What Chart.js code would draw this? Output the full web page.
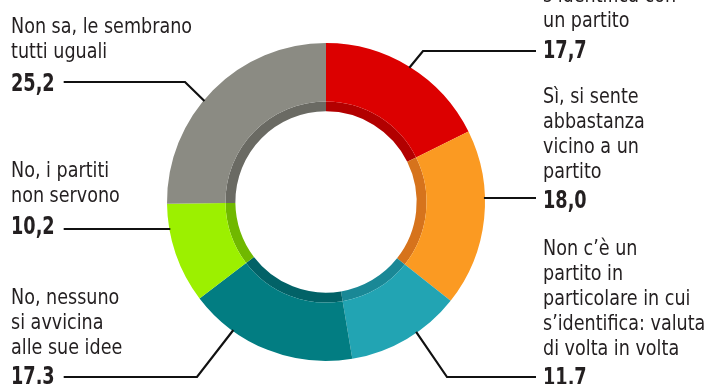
<!DOCTYPE html>
<html>
<head>
<meta charset="utf-8">
<script src="https://cdn.jsdelivr.net/npm/chart.js@4"></script>
<style>
  body { margin: 0; background: #fff; }
  canvas { display: block; }
</style>
</head>
<body>
<canvas id="donut" width="710" height="384"></canvas>
<script>
// categorie (righe di testo come nel grafico originale)
var categories = [
  ["Sì, si", "s’identifica con", "un partito"],
  ["Sì, si sente", "abbastanza", "vicino a un", "partito"],
  ["Non c’è un", "partito in", "particolare in cui", "s’identifica: valuta", "di volta in volta"],
  ["No, nessuno", "si avvicina", "alle sue idee"],
  ["No, i partiti", "non servono"],
  ["Non sa, le sembrano", "tutti uguali"],
];
var values = [17.7, 18.0, 11.7, 17.3, 10.2, 25.2];
var colors = ["#dc0000", "#fb9a22", "#22a4b3", "#027d82", "#9cf000", "#8b8b83"];
var shadeColors = ["#b20000", "#d6731c", "#1a8896", "#026267", "#70b800", "#6a6a63"];

// posizioni delle etichette (prima riga, numero, linea di richiamo)
var labelLayout = [
  { side: "right", x: 543, y: -23, numY: 58, lineY: 51, elbowX: 423, t: 0.5 },
  { side: "right", x: 543, y: 103, numY: 208, lineY: 198, elbowX: null },
  { side: "right", x: 543, y: 255, numY: 385, lineY: 377, elbowX: 447, t: 0.4 },
  { side: "left", x: 11, y: 304, numY: 384, lineY: 377, elbowX: 197, t: 0.73 },
  { side: "left", x: 11, y: 177, numY: 234, lineY: 229, elbowX: null },
  { side: "left", x: 11, y: 33, numY: 91, lineY: 82, elbowX: 185, t: 0.445 },
];

var textFont = '21px "Liberation Sans Narrow", "DejaVu Sans Condensed", sans-serif';
var numFont = 'bold 24px "Liberation Sans Narrow", "DejaVu Sans Condensed", sans-serif';
var textSqueeze = 0.93;
var numSqueeze = 0.82;

function squeezedText(ctx, str, x, y, sx) {
  ctx.save();
  ctx.translate(x, y);
  ctx.scale(sx, 1);
  ctx.fillText(str, 0, 0);
  ctx.restore();
}

var calloutPlugin = {
  id: "callouts",
  afterDatasetsDraw: function (chart) {
    var ctx = chart.ctx;
    var arcs = chart.getDatasetMeta(0).data;
    ctx.save();
    ctx.fillStyle = "#231f20";
    ctx.strokeStyle = "#111";
    ctx.lineWidth = 2.2;
    ctx.textBaseline = "alphabetic";
    arcs.forEach(function (arc, i) {
      var lay = labelLayout[i];
      var p = arc.getProps(["x", "y", "startAngle", "endAngle", "outerRadius"], true);
      var r = p.outerRadius - 1;
      var ax, ay;
      if (lay.elbowX === null) {
        ay = lay.lineY;
        var dx = Math.sqrt(r * r - (ay - p.y) * (ay - p.y));
        ax = lay.side === "right" ? p.x + dx : p.x - dx;
      } else {
        var a = p.startAngle + lay.t * (p.endAngle - p.startAngle);
        ax = p.x + Math.cos(a) * r;
        ay = p.y + Math.sin(a) * r;
      }
      // testo
      ctx.font = textFont;
      categories[i].forEach(function (line, k) {
        squeezedText(ctx, line, lay.x, lay.y + k * 25, textSqueeze);
      });
      ctx.font = numFont;
      var num = values[i].toFixed(1).replace(".", ",");
      squeezedText(ctx, num, lay.x, lay.numY, numSqueeze);
      // linea di richiamo
      var numW = ctx.measureText(num).width * numSqueeze;
      var lineFrom = lay.side === "right" ? lay.x - 7 : lay.x + numW + 9;
      ctx.beginPath();
      ctx.moveTo(lineFrom, lay.lineY);
      if (lay.elbowX !== null) ctx.lineTo(lay.elbowX, lay.lineY);
      ctx.lineTo(ax, ay);
      ctx.stroke();
    });
    ctx.restore();
  },
};

new Chart(document.getElementById("donut"), {
  type: "doughnut",
  data: {
    labels: categories.map(function (c) { return c.join(" "); }),
    datasets: [
      { data: values, backgroundColor: colors, borderWidth: 0, weight: 59 },
      { data: values, backgroundColor: shadeColors, borderWidth: 0, weight: 10 },
    ],
  },
  options: {
    responsive: false,
    animation: false,
    cutout: "57%",
    layout: { padding: { top: 43, bottom: 23, left: 0, right: 58 } },
    plugins: {
      legend: { display: false },
      tooltip: { enabled: false },
    },
  },
  plugins: [calloutPlugin],
});
</script>
</body>
</html>
